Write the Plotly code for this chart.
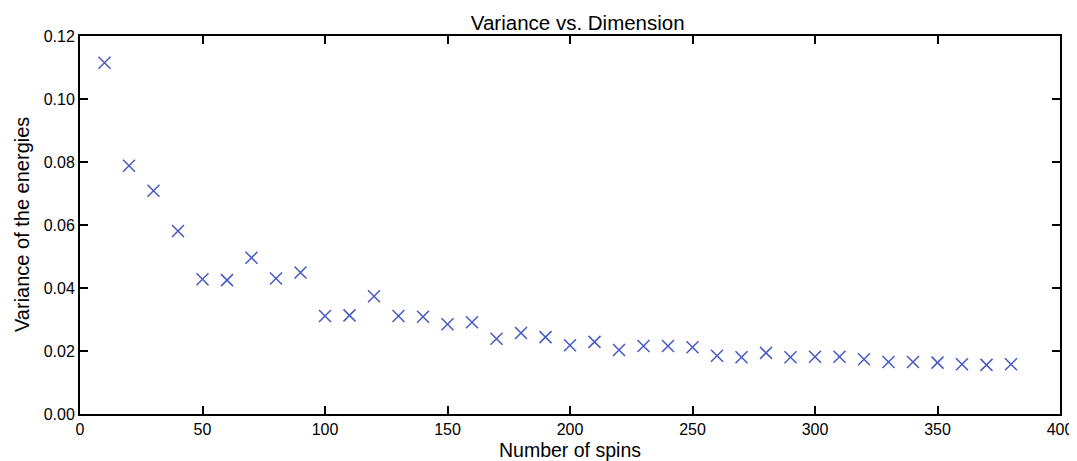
import plotly.graph_objects as go

# number of spins and measured variance of the energies
spins = [10, 20, 30, 40, 50, 60, 70, 80, 90, 100, 110, 120, 130, 140, 150, 160, 170, 180, 190,
         200, 210, 220, 230, 240, 250, 260, 270, 280, 290, 300, 310, 320, 330, 340, 350, 360, 370, 380]
variance = [0.1115, 0.0788, 0.0709, 0.0581, 0.0428, 0.0425, 0.0496, 0.0430, 0.0449, 0.0311,
            0.0313, 0.0374, 0.0311, 0.0309, 0.0285, 0.0291, 0.0239, 0.0257, 0.0244, 0.0218,
            0.0229, 0.0203, 0.0216, 0.0216, 0.0212, 0.0185, 0.0180, 0.0194, 0.0180, 0.0182,
            0.0182, 0.0174, 0.0165, 0.0165, 0.0163, 0.0158, 0.0156, 0.0158]

x_ticks = [0, 50, 100, 150, 200, 250, 300, 350, 400]
y_ticks = [0.00, 0.02, 0.04, 0.06, 0.08, 0.10, 0.12]

fig = go.Figure()
fig.add_trace(go.Scatter(
    x=spins,
    y=variance,
    mode='markers',
    marker=dict(symbol='x-thin', size=12, line=dict(color='#4658c4', width=1.5)),
    showlegend=False
))

axis_common = dict(
    showgrid=False,
    zeroline=False,
    showline=True,
    linecolor='black',
    linewidth=2,
    mirror='allticks',
    ticks='inside',
    ticklen=8,
    tickwidth=1.5,
    tickcolor='black',
    tickfont=dict(size=16, color='black'),
    automargin=False,
)

# the page body adds an 8px offset, so margins are reduced by that amount
fig.update_layout(
    title=dict(text='Variance vs. Dimension', x=0.529, xanchor='center',
               yref='container', y=(461 - 15) / 461, yanchor='middle',
               font=dict(size=20.5, color='black')),
    font=dict(family='Liberation Sans, Arial, sans-serif', color='black'),
    width=1077,
    height=461,
    margin=dict(l=72, r=25, t=28, b=55),
    plot_bgcolor='white',
    paper_bgcolor='white',
    xaxis=dict(range=[0, 400], tickvals=x_ticks, ticktext=[str(v) for v in x_ticks], **axis_common),
    yaxis=dict(range=[0, 0.12], tickvals=y_ticks, ticktext=['%.2f' % v for v in y_ticks], **axis_common),
)

# axis titles placed as annotations so the plot frame stays where the reference has it
fig.add_annotation(text='Number of spins', xref='paper', yref='paper', x=0.5, y=0,
                   xanchor='center', yanchor='middle', yshift=-36, showarrow=False, borderpad=0,
                   font=dict(size=19.5, color='black'))
fig.add_annotation(text='Variance of the energies', xref='paper', yref='paper', x=0, y=0.5,
                   xanchor='center', yanchor='middle', xshift=-58, textangle=-90, showarrow=False,
                   font=dict(size=20, color='black'))

fig.write_html("out.html")
